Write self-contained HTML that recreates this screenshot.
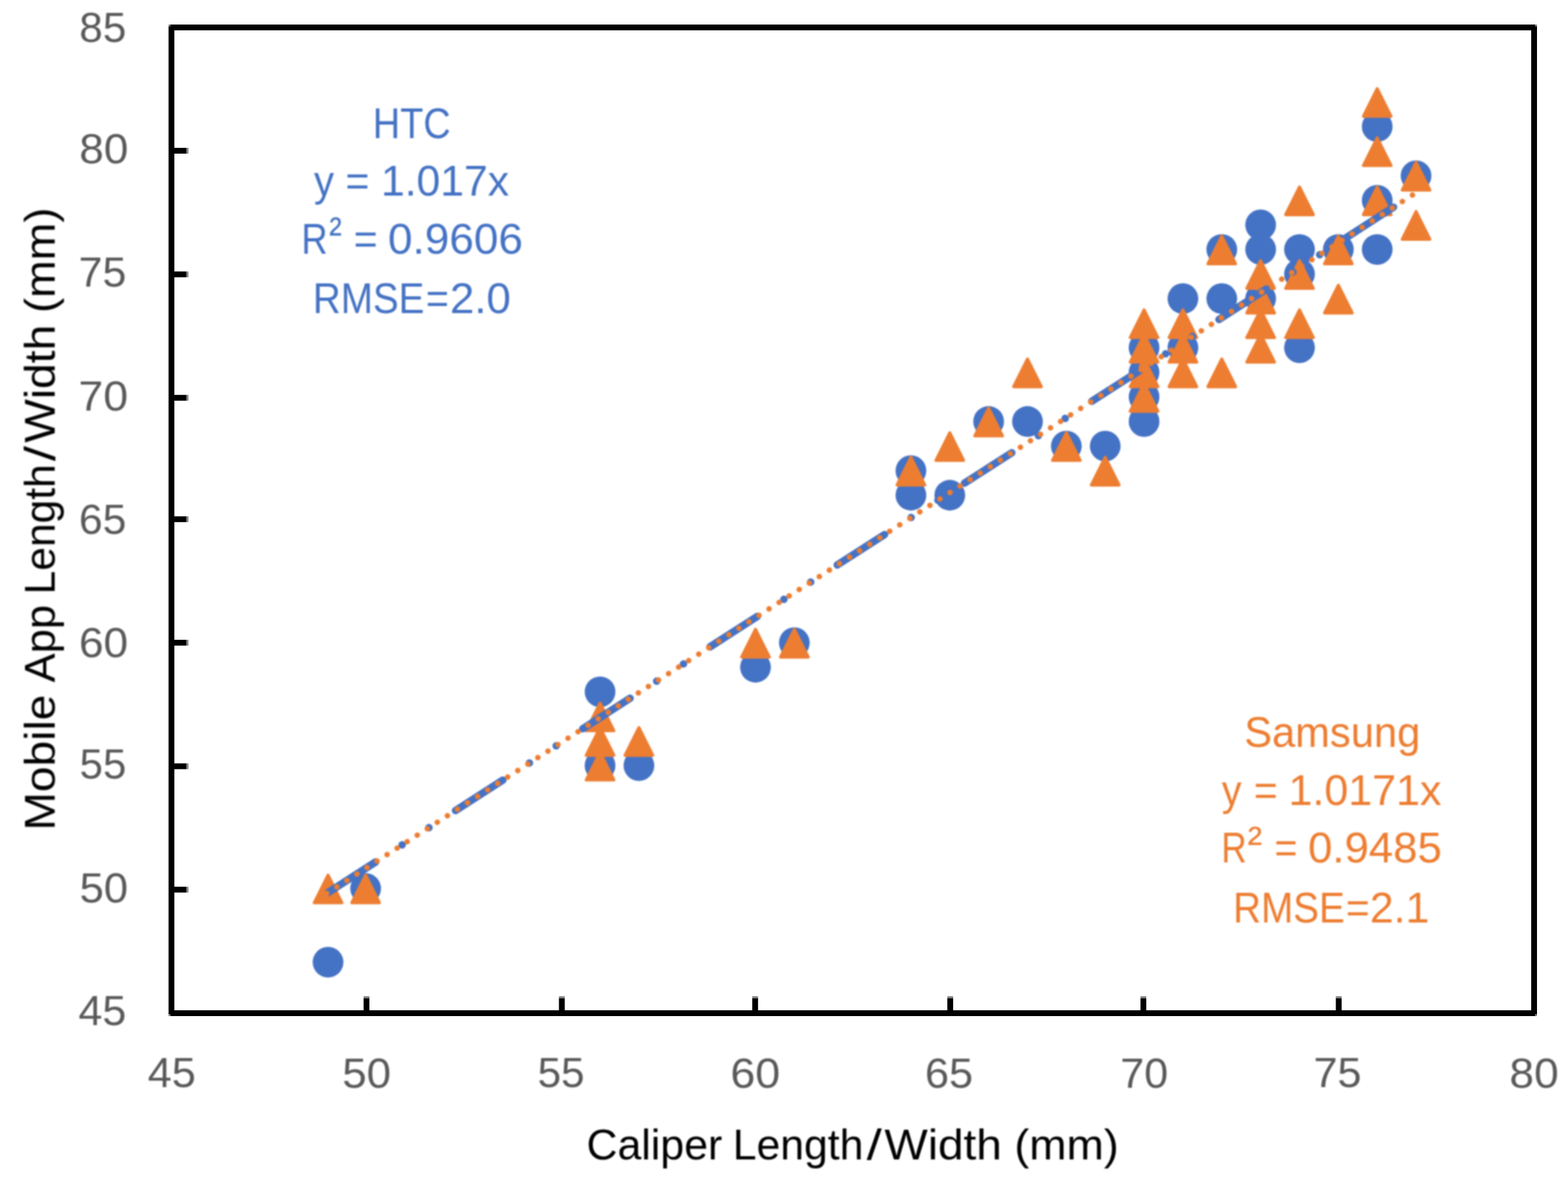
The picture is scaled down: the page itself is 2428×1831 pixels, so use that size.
<!DOCTYPE html>
<html lang="en">
<head>
<meta charset="utf-8">
<title>Mobile App vs Caliper Length/Width</title>
<style>
html,body{margin:0;padding:0;background:#fff;}
body{width:2428px;height:1831px;overflow:hidden;}
svg{display:block;font-family:'Liberation Sans', sans-serif;}
svg text{white-space:pre;}
</style>
</head>
<body>
<svg width="2428" height="1831" viewBox="0 0 2428 1831" role="img" aria-label="Scatter plot of Mobile App Length/Width versus Caliper Length/Width for HTC and Samsung phones">
<rect x="0" y="0" width="2428" height="1831" fill="#fff"/>
<defs><filter id="soft" x="-5%" y="-5%" width="110%" height="110%" color-interpolation-filters="sRGB"><feGaussianBlur stdDeviation="0.8"/></filter></defs>
<g class="chart">
<g class="plot" filter="url(#soft)">
<g class="series-htc" fill="#4472C4">
<circle cx="507.98" cy="1490.46" r="23.80"/>
<circle cx="566.15" cy="1376.25" r="23.80"/>
<circle cx="929.17" cy="1185.90" r="23.80"/>
<circle cx="929.17" cy="1071.69" r="23.80"/>
<circle cx="989.34" cy="1185.90" r="23.80"/>
<circle cx="1169.85" cy="1033.62" r="23.80"/>
<circle cx="1230.02" cy="995.55" r="23.80"/>
<circle cx="1410.53" cy="767.13" r="23.80"/>
<circle cx="1410.53" cy="729.06" r="23.80"/>
<circle cx="1470.70" cy="767.13" r="23.80"/>
<circle cx="1530.87" cy="652.92" r="23.80"/>
<circle cx="1591.04" cy="652.92" r="23.80"/>
<circle cx="1651.21" cy="690.99" r="23.80"/>
<circle cx="1711.38" cy="690.99" r="23.80"/>
<circle cx="1771.55" cy="652.92" r="23.80"/>
<circle cx="1771.55" cy="614.85" r="23.80"/>
<circle cx="1771.55" cy="576.78" r="23.80"/>
<circle cx="1771.55" cy="538.71" r="23.80"/>
<circle cx="1831.72" cy="538.71" r="23.80"/>
<circle cx="1831.72" cy="462.57" r="23.80"/>
<circle cx="1891.89" cy="462.57" r="23.80"/>
<circle cx="1891.89" cy="386.43" r="23.80"/>
<circle cx="1952.06" cy="462.57" r="23.80"/>
<circle cx="1952.06" cy="386.43" r="23.80"/>
<circle cx="1952.06" cy="348.36" r="23.80"/>
<circle cx="2012.23" cy="538.71" r="23.80"/>
<circle cx="2012.23" cy="424.50" r="23.80"/>
<circle cx="2012.23" cy="386.43" r="23.80"/>
<circle cx="2072.40" cy="386.43" r="23.80"/>
<circle cx="2132.57" cy="386.43" r="23.80"/>
<circle cx="2132.57" cy="310.29" r="23.80"/>
<circle cx="2132.57" cy="196.08" r="23.80"/>
<circle cx="2192.74" cy="272.22" r="23.80"/>
</g>
<g class="series-samsung" fill="#ED7D31" stroke="#ED7D31" stroke-width="4.6" stroke-linejoin="round">
<path d="M507.98 1355.55L529.48 1398.55H486.48Z"/>
<path d="M566.15 1355.55L587.65 1398.55H544.65Z"/>
<path d="M929.17 1165.20L950.67 1208.20H907.67Z"/>
<path d="M929.17 1127.13L950.67 1170.13H907.67Z"/>
<path d="M929.17 1089.06L950.67 1132.06H907.67Z"/>
<path d="M989.34 1127.13L1010.84 1170.13H967.84Z"/>
<path d="M1169.85 974.85L1191.35 1017.85H1148.35Z"/>
<path d="M1230.02 974.85L1251.52 1017.85H1208.52Z"/>
<path d="M1410.53 708.36L1432.03 751.36H1389.03Z"/>
<path d="M1470.70 670.29L1492.20 713.29H1449.20Z"/>
<path d="M1530.87 632.22L1552.37 675.22H1509.37Z"/>
<path d="M1591.04 556.08L1612.54 599.08H1569.54Z"/>
<path d="M1651.21 670.29L1672.71 713.29H1629.71Z"/>
<path d="M1711.38 708.36L1732.88 751.36H1689.88Z"/>
<path d="M1771.55 594.15L1793.05 637.15H1750.05Z"/>
<path d="M1771.55 556.08L1793.05 599.08H1750.05Z"/>
<path d="M1771.55 518.01L1793.05 561.01H1750.05Z"/>
<path d="M1771.55 479.94L1793.05 522.94H1750.05Z"/>
<path d="M1831.72 556.08L1853.22 599.08H1810.22Z"/>
<path d="M1831.72 518.01L1853.22 561.01H1810.22Z"/>
<path d="M1831.72 479.94L1853.22 522.94H1810.22Z"/>
<path d="M1891.89 556.08L1913.39 599.08H1870.39Z"/>
<path d="M1891.89 365.73L1913.39 408.73H1870.39Z"/>
<path d="M1952.06 518.01L1973.56 561.01H1930.56Z"/>
<path d="M1952.06 479.94L1973.56 522.94H1930.56Z"/>
<path d="M1952.06 441.87L1973.56 484.87H1930.56Z"/>
<path d="M1952.06 403.80L1973.56 446.80H1930.56Z"/>
<path d="M2012.23 479.94L2033.73 522.94H1990.73Z"/>
<path d="M2012.23 403.80L2033.73 446.80H1990.73Z"/>
<path d="M2012.23 289.59L2033.73 332.59H1990.73Z"/>
<path d="M2072.40 441.87L2093.90 484.87H2050.90Z"/>
<path d="M2072.40 365.73L2093.90 408.73H2050.90Z"/>
<path d="M2132.57 289.59L2154.07 332.59H2111.07Z"/>
<path d="M2132.57 213.45L2154.07 256.45H2111.07Z"/>
<path d="M2132.57 137.31L2154.07 180.31H2111.07Z"/>
<path d="M2192.74 327.66L2214.24 370.66H2171.24Z"/>
<path d="M2192.74 251.52L2214.24 294.52H2171.24Z"/>
</g>
<g class="trendlines" fill="none" stroke-linecap="round">
<line x1="508.38" y1="1382.35" x2="2192.74" y2="298.53" stroke="#4472C4" stroke-width="11.6" stroke-dasharray="87.04 48.96 0.01 49.32 0.01 48.96"/>
<line x1="506.00" y1="1383.88" x2="2192.74" y2="298.53" stroke="#ED7D31" stroke-width="8.6" stroke-dasharray="0.01 18.50"/>
</g>
</g>
<g class="axes">
<rect x="265.5" y="42.5" width="2110" height="1527" fill="none" stroke="#000" stroke-width="9"/>
<rect x="269" y="229.00" width="19.8" height="9" fill="#000"/><rect x="288.8" y="229.00" width="3" height="9" fill="#868686"/>
<rect x="269" y="420.50" width="19.8" height="9" fill="#000"/><rect x="288.8" y="420.50" width="3" height="9" fill="#868686"/>
<rect x="269" y="611.70" width="19.8" height="9" fill="#000"/><rect x="288.8" y="611.70" width="3" height="9" fill="#868686"/>
<rect x="269" y="799.80" width="19.8" height="9" fill="#000"/><rect x="288.8" y="799.80" width="3" height="9" fill="#868686"/>
<rect x="269" y="991.10" width="19.8" height="9" fill="#000"/><rect x="288.8" y="991.10" width="3" height="9" fill="#868686"/>
<rect x="269" y="1182.50" width="19.8" height="9" fill="#000"/><rect x="288.8" y="1182.50" width="3" height="9" fill="#868686"/>
<rect x="269" y="1373.60" width="19.8" height="9" fill="#000"/><rect x="288.8" y="1373.60" width="3" height="9" fill="#868686"/>
<rect x="563.00" y="1546.2" width="9" height="19.8" fill="#000"/><rect x="563.00" y="1543.2" width="9" height="3" fill="#868686"/>
<rect x="865.50" y="1546.2" width="9" height="19.8" fill="#000"/><rect x="865.50" y="1543.2" width="9" height="3" fill="#868686"/>
<rect x="1164.80" y="1546.2" width="9" height="19.8" fill="#000"/><rect x="1164.80" y="1543.2" width="9" height="3" fill="#868686"/>
<rect x="1466.90" y="1546.2" width="9" height="19.8" fill="#000"/><rect x="1466.90" y="1543.2" width="9" height="3" fill="#868686"/>
<rect x="1766.00" y="1546.2" width="9" height="19.8" fill="#000"/><rect x="1766.00" y="1543.2" width="9" height="3" fill="#868686"/>
<rect x="2068.50" y="1546.2" width="9" height="19.8" fill="#000"/><rect x="2068.50" y="1543.2" width="9" height="3" fill="#868686"/>
<rect x="261" y="38" width="3" height="3" fill="#7f7f7f"/>
<rect x="2377" y="38" width="3" height="3" fill="#7f7f7f"/>
<rect x="261" y="1571" width="3" height="3" fill="#7f7f7f"/>
<rect x="2377" y="1571" width="3" height="3" fill="#7f7f7f"/>
</g>
<g class="labels" filter="url(#soft)">
<text y="64.75" font-size="65.5" fill="#595959"><tspan x="122.80" textLength="72.72" lengthAdjust="spacingAndGlyphs">85</tspan></text>
<text y="253.15" font-size="65.5" fill="#595959"><tspan x="122.71" textLength="76.02" lengthAdjust="spacingAndGlyphs">80</tspan></text>
<text y="443.85" font-size="65.5" fill="#595959"><tspan x="121.76" textLength="73.80" lengthAdjust="spacingAndGlyphs">75</tspan></text>
<text y="635.85" font-size="65.5" fill="#595959"><tspan x="121.64" textLength="76.72" lengthAdjust="spacingAndGlyphs">70</tspan></text>
<text y="826.95" font-size="65.5" fill="#595959"><tspan x="122.28" textLength="73.26" lengthAdjust="spacingAndGlyphs">65</tspan></text>
<text y="1018.10" font-size="65.5" fill="#595959"><tspan x="122.16" textLength="76.18" lengthAdjust="spacingAndGlyphs">60</tspan></text>
<text y="1205.65" font-size="65.5" fill="#595959"><tspan x="123.32" textLength="72.19" lengthAdjust="spacingAndGlyphs">55</tspan></text>
<text y="1397.85" font-size="65.5" fill="#595959"><tspan x="123.24" textLength="75.06" lengthAdjust="spacingAndGlyphs">50</tspan></text>
<text y="1588.30" font-size="65.5" fill="#595959"><tspan x="121.58" textLength="73.98" lengthAdjust="spacingAndGlyphs">45</tspan></text>
<text y="1684.00" font-size="65.5" fill="#595959"><tspan x="228.78" textLength="74.40" lengthAdjust="spacingAndGlyphs">45</tspan></text>
<text y="1684.50" font-size="65.5" fill="#595959"><tspan x="530.13" textLength="75.49" lengthAdjust="spacingAndGlyphs">50</tspan></text>
<text y="1684.00" font-size="65.5" fill="#595959"><tspan x="832.50" textLength="72.72" lengthAdjust="spacingAndGlyphs">55</tspan></text>
<text y="1684.50" font-size="65.5" fill="#595959"><tspan x="1131.02" textLength="77.15" lengthAdjust="spacingAndGlyphs">60</tspan></text>
<text y="1684.50" font-size="65.5" fill="#595959"><tspan x="1432.23" textLength="74.55" lengthAdjust="spacingAndGlyphs">65</tspan></text>
<text y="1684.50" font-size="65.5" fill="#595959"><tspan x="1734.74" textLength="74.23" lengthAdjust="spacingAndGlyphs">70</tspan></text>
<text y="1684.00" font-size="65.5" fill="#595959"><tspan x="2033.94" textLength="74.34" lengthAdjust="spacingAndGlyphs">75</tspan></text>
<text y="1684.50" font-size="65.5" fill="#595959"><tspan x="2337.31" textLength="76.23" lengthAdjust="spacingAndGlyphs">80</tspan></text>
<text y="1796.00" font-size="67.5" fill="#000"><tspan x="908.25" textLength="228.54" lengthAdjust="spacingAndGlyphs">Caliper </tspan><tspan x="1134.70" textLength="202.27" lengthAdjust="spacingAndGlyphs">Length</tspan><tspan x="1341.93" textLength="23.44" lengthAdjust="spacingAndGlyphs">/</tspan><tspan x="1369.60" textLength="201.59" lengthAdjust="spacingAndGlyphs">Width </tspan><tspan x="1570.79" textLength="161.58" lengthAdjust="spacingAndGlyphs">(mm)</tspan></text>
<text y="0.00" font-size="67.5" fill="#000" transform="translate(84.70,1281.30) rotate(-90)"><tspan x="-5.30" textLength="230.45" lengthAdjust="spacingAndGlyphs">Mobile </tspan><tspan x="224.20" textLength="138.78" lengthAdjust="spacingAndGlyphs">App </tspan><tspan x="360.62" textLength="201.54" lengthAdjust="spacingAndGlyphs">Length</tspan><tspan x="567.12" textLength="23.44" lengthAdjust="spacingAndGlyphs">/</tspan><tspan x="595.50" textLength="202.61" lengthAdjust="spacingAndGlyphs">Width </tspan><tspan x="796.55" textLength="163.15" lengthAdjust="spacingAndGlyphs">(mm)</tspan></text>
<text y="214.00" font-size="67.5" fill="#4472C4"><tspan x="577.36" textLength="120.46" lengthAdjust="spacingAndGlyphs">HTC</tspan></text>
<text y="303.10" font-size="67.5" fill="#4472C4"><tspan x="486.20" textLength="48.18" lengthAdjust="spacingAndGlyphs">y </tspan><tspan x="535.09" textLength="54.58" lengthAdjust="spacingAndGlyphs">= </tspan><tspan x="590.01" textLength="198.25" lengthAdjust="spacingAndGlyphs">1.017x</tspan></text>
<text y="392.80" font-size="67.5" fill="#4472C4"><tspan x="466.64" textLength="40.54" lengthAdjust="spacingAndGlyphs">R</tspan><tspan x="509.73" dy="-8.4" textLength="35.73" lengthAdjust="spacingAndGlyphs">² </tspan><tspan x="547.69" dy="8.4" textLength="54.58" lengthAdjust="spacingAndGlyphs">= </tspan><tspan x="600.88" textLength="208.89" lengthAdjust="spacingAndGlyphs">0.9606</tspan></text>
<text y="484.70" font-size="67.5" fill="#4472C4"><tspan x="484.58" textLength="172.51" lengthAdjust="spacingAndGlyphs">RMSE</tspan><tspan x="659.39" textLength="35.59" lengthAdjust="spacingAndGlyphs">=</tspan><tspan x="696.68" textLength="94.37" lengthAdjust="spacingAndGlyphs">2.0</tspan></text>
<text y="1157.40" font-size="67.5" fill="#ED7D31"><tspan x="1926.63" textLength="272.76" lengthAdjust="spacingAndGlyphs">Samsung</tspan></text>
<text y="1247.40" font-size="67.5" fill="#ED7D31"><tspan x="1891.90" textLength="47.41" lengthAdjust="spacingAndGlyphs">y </tspan><tspan x="1941.49" textLength="54.58" lengthAdjust="spacingAndGlyphs">= </tspan><tspan x="1995.17" textLength="236.99" lengthAdjust="spacingAndGlyphs">1.0171x</tspan></text>
<text y="1336.30" font-size="67.5" fill="#ED7D31"><tspan x="1891.28" textLength="39.23" lengthAdjust="spacingAndGlyphs">R</tspan><tspan x="1931.89" dy="-8.4" textLength="41.62" lengthAdjust="spacingAndGlyphs">² </tspan><tspan x="1973.49" dy="8.4" textLength="52.53" lengthAdjust="spacingAndGlyphs">= </tspan><tspan x="2025.39" textLength="207.36" lengthAdjust="spacingAndGlyphs">0.9485</tspan></text>
<text y="1429.00" font-size="67.5" fill="#ED7D31"><tspan x="1909.57" textLength="172.72" lengthAdjust="spacingAndGlyphs">RMSE</tspan><tspan x="2083.89" textLength="36.87" lengthAdjust="spacingAndGlyphs">=</tspan><tspan x="2121.26" textLength="92.03" lengthAdjust="spacingAndGlyphs">2.1</tspan></text>
</g>
</g>
</svg>
</body>
</html>
